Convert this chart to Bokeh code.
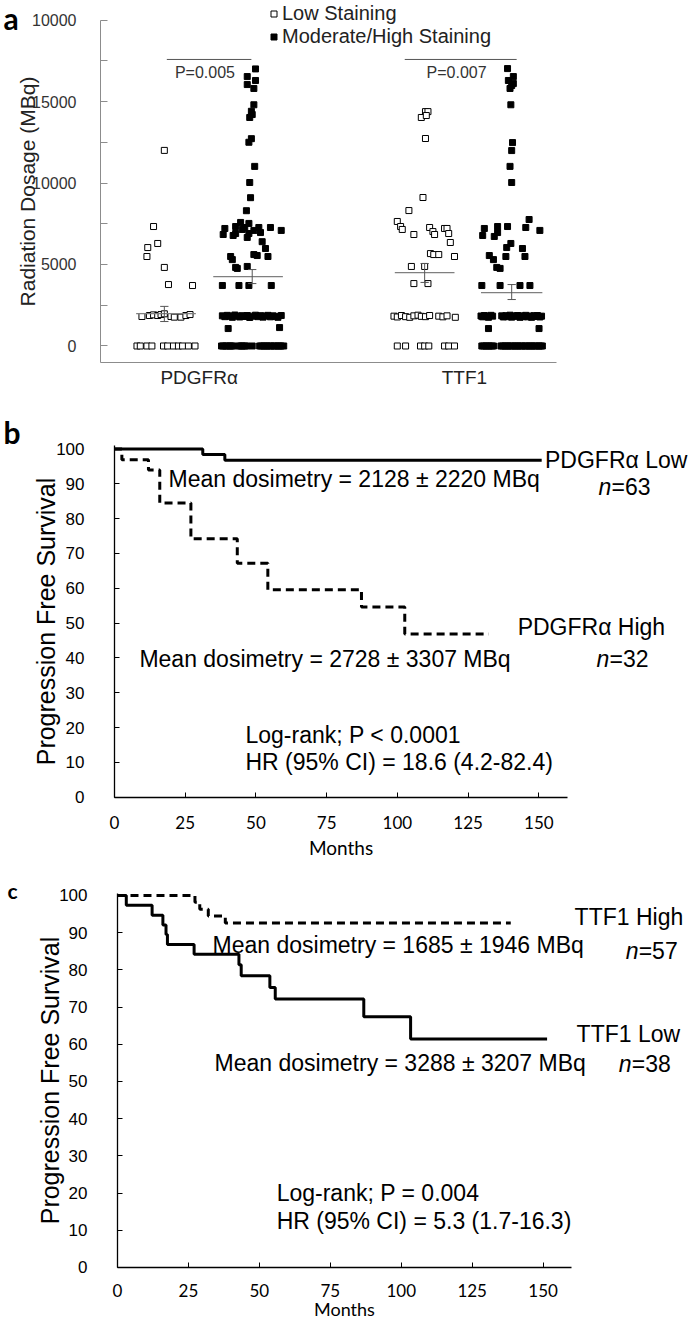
from bokeh.plotting import figure
from bokeh.layouts import column
from bokeh.models import FixedTicker, Label, Legend, LegendItem
from bokeh.embed import file_html
from bokeh.resources import INLINE

# ---------------- Panel a data ----------------
categories = ["PDGFRα", "TTF1"]
category_x = [1.19, 4.39]
group_centers_low = [0.81, 3.91]
group_centers_high = [1.81, 4.96]

y_major_ticks = [0, 5000, 10000, 15000, 20000]
y_major_labels = ["0", "5000", "10000", "15000", "10000"]
y_minor_ticks = [2500, 7500, 12500, 17500]

pdgfr_low_dose = [12000, 7330, 6290, 6040, 5490, 4820, 3770, 3710,
                  1810, 1870, 1910, 1870, 1930, 1975, 1810, 1770, 1770, 1870, 1930,
                  0, 0, 0, 0, 0, 0, 0, 0, 0, 0, 0]
pdgfr_low_jit = [-0.04, -0.17, -0.12, -0.24, -0.25, -0.04, 0.01, 0.30,
                 -0.31, -0.22, -0.17, -0.12, -0.08, -0.04, 0.04, 0.08, 0.16, 0.22, 0.27,
                 -0.37, -0.33, -0.25, -0.19, -0.05, 0.0, 0.07, 0.13, 0.18, 0.25, 0.33]

pdgfr_high_dose = [17000, 16530, 16290, 16040, 15800, 14800, 14400, 14020, 14200, 12720, 12500, 11020, 10030, 9100, 8300,
                   7210, 7330, 7580, 6900, 7270, 7520, 7090, 7270, 6900, 6660, 7270, 7090, 6840, 6780, 7150, 6960,
                   6400, 5980, 5490, 5300, 5610, 5550, 5490, 4820, 4760, 4880, 3710, 3710, 3710, 3710, 1070, 1130,
                   1850, 1800, 1880, 1820, 1760, 1900, 1840, 1780, 1860, 1810, 1870, 1750,
                   1830, 1890, 1800, 1860, 1770, 1840, 1880, 1790, 1850, 1820, 1760, 1870,
                   0, 0, 0, 0, 0, 0, 0, 0, 0, 0, 0, 0, 0, 0, 0, 0, 0, 0, 0, 0, 0, 0, 0, 0, 0, 0]
pdgfr_high_jit = [0.06, -0.04, 0.06, -0.04, 0.04, 0.04, 0.01, -0.01, 0.02, 0.01, -0.02, 0.05, -0.01, 0.0, -0.05,
                  -0.31, -0.18, -0.12, -0.18, -0.07, -0.02, 0.04, 0.10, -0.02, -0.04, 0.24, 0.37, -0.33, -0.21, -0.10, 0.12,
                  0.14, 0.18, -0.24, -0.22, 0.04, 0.08, 0.21, -0.18, -0.16, -0.04, -0.34, -0.14, -0.02, 0.25, -0.27, 0.35,
                  -0.34, -0.31, -0.28, -0.25, -0.22, -0.19, -0.16, -0.13, -0.10, -0.07, -0.04, -0.01,
                  0.03, 0.06, 0.09, 0.12, 0.15, 0.18, 0.21, 0.24, 0.27, 0.30, 0.33, 0.37,
                  -0.35, -0.33, -0.30, -0.28, -0.25, -0.23, -0.21, -0.14, -0.12, -0.10, -0.07, -0.05, 0.02,
                  0.11, 0.13, 0.16, 0.18, 0.20, 0.23, 0.25, 0.28, 0.30, 0.33, 0.35, 0.37, 0.40]

ttf1_low_dose = [14380, 14380, 14020, 14140, 12730, 9110, 8310, 7640, 7330, 7150, 6840, 7270, 7020,
                 6840, 7210, 7210, 6900, 6350, 5670, 5610, 5610, 5490, 4880, 4880, 3830, 3830,
                 1830, 1780, 1870, 1800, 1760, 1850, 1890, 1820, 1800, 1870, 1830, 1790, 1850, 1760,
                 0, 0, 0, 0, 0, 0, 0, 0]
ttf1_low_jit = [0.01, 0.04, -0.04, 0.02, 0.01, -0.02, -0.19, -0.33, -0.29, -0.27, -0.13, 0.06, 0.10,
                0.12, 0.24, 0.27, 0.29, 0.31, 0.07, 0.11, 0.17, 0.36, -0.16, 0.0, -0.13, 0.04,
                -0.37, -0.33, -0.28, -0.23, -0.18, -0.13, -0.08, -0.04, 0.01, 0.06, 0.17, 0.22, 0.27, 0.37,
                -0.33, -0.23, -0.05, 0.0, 0.05, 0.24, 0.29, 0.36]

ttf1_high_dose = [17020, 16290, 16530, 15980, 16100, 15800, 14800, 12480, 11990, 11020, 10030, 7760,
                  7210, 7330, 7330, 7270, 7090, 6780, 6720, 6960, 6290, 6040, 5980, 5550, 5300, 5490,
                  5490, 4820, 4760, 3710, 3710, 3710, 3710, 1070, 1070,
                  1840, 1790, 1870, 1810, 1760, 1880, 1830, 1850, 1780, 1860, 1800, 1890, 1770, 1840,
                  1820, 1870, 1760, 1850, 1800, 1880, 1790, 1840, 1760, 1860, 1810, 1870, 1780, 1830,
                  0, 0, 0, 0, 0, 0, 0, 0, 0, 0, 0, 0, 0, 0, 0, 0, 0, 0, 0, 0, 0, 0, 0, 0, 0, 0, 0, 0, 0]
ttf1_high_jit = [-0.05, -0.04, 0.02, 0.0, 0.02, -0.02, -0.01, 0.01, 0.0, -0.02, 0.0, 0.21,
                 -0.33, -0.17, -0.05, 0.17, 0.34, -0.35, -0.21, -0.17, -0.01, -0.06, 0.13, -0.27, -0.22, -0.07,
                 0.16, -0.18, -0.14, -0.36, -0.14, 0.10, 0.22, -0.28, 0.33,
                 -0.37, -0.35, -0.33, -0.30, -0.28, -0.25, -0.23, -0.12, -0.10, -0.07, -0.05, -0.02, 0.0, 0.02,
                 0.05, 0.07, 0.10, 0.12, 0.14, 0.17, 0.19, 0.22, 0.24, 0.27, 0.29, 0.31, 0.34, 0.36,
                 -0.36, -0.34, -0.31, -0.29, -0.27, -0.24, -0.22, -0.13, -0.11, -0.08, -0.06, -0.04, -0.01, 0.01,
                 0.04, 0.06, 0.08, 0.11, 0.13, 0.16, 0.18, 0.21, 0.23, 0.25, 0.28, 0.30, 0.33, 0.35, 0.37]

# mean and SEM bars: PDGFR low, PDGFR high, TTF1 low, TTF1 high
mean_dose = [1990, 4260, 4500, 3280]
sem_high = [2430, 4690, 5060, 3770]
sem_low = [1500, 3830, 3900, 2850]

p_values = ["P=0.005", "P=0.007"]
p_bar_dose = 17580
p_text_dose = 16780

# ---------------- Panel b data ----------------
pdgfr_low_t = [0, 31.2, 39.0, 151]
pdgfr_low_s = [100, 98.4, 96.8, 96.8]
pdgfr_high_t = [0, 2.6, 12.0, 16.0, 27.0, 43.4, 54.2, 87.3, 102.6, 132.3]
pdgfr_high_s = [100, 96.9, 94.0, 84.5, 74.2, 67.2, 59.6, 54.6, 46.9, 46.9]

# ---------------- Panel c data ----------------
ttf1_high_t = [0, 27.3, 29.0, 32.0, 38.0, 138.6]
ttf1_high_s = [100, 98.2, 96.3, 94.5, 92.6, 92.6]
ttf1_low_t = [0, 3.1, 12.2, 16.0, 17.1, 17.6, 27.0, 42.8, 43.6, 53.7, 55.6, 86.8, 103.3, 151.4]
ttf1_low_s = [100, 97.4, 94.7, 92.1, 89.5, 86.8, 84.2, 81.4, 78.4, 75.3, 72.2, 67.4, 61.4, 61.4]

month_ticks = [0, 25, 50, 75, 100, 125, 150]
pfs_ticks = [0, 10, 20, 30, 40, 50, 60, 70, 80, 90, 100]

SANS = "Liberation Sans"
NARROW = "Lato"
W = 689


def label(p, x, y, text, size, align="left", baseline="middle", style="normal",
          font=SANS, color="black", units="data", x_offset=0):
    p.add_layout(Label(x=x, y=y, text=text, x_units=units, y_units=units,
                       text_font_size=f"{size}px", text_align=align,
                       text_baseline=baseline, text_font_style=style,
                       text_font=font, text_color=color, x_offset=x_offset))


def bare_figure(height, x_range, y_range):
    p = figure(width=W, height=height, x_range=x_range, y_range=y_range,
               output_backend="svg", toolbar_location=None,
               min_border_left=0, min_border_right=0, min_border_top=0, min_border_bottom=0)
    p.outline_line_color = None
    p.grid.visible = False
    return p


# ================= Panel a =================
pa = bare_figure(400, (-1.2063, 7.1049), (-3344, 21197))
X_AXIS_Y = -1012

xa = pa.xaxis[0]
xa.fixed_location = X_AXIS_Y
xa.bounds = (0, 5.5)
xa.ticker = FixedTicker(ticks=category_x)
xa.major_label_overrides = {cx: c for cx, c in zip(category_x, categories)}
xa.major_tick_in = 0
xa.major_tick_out = 0
xa.minor_tick_line_color = None
xa.axis_line_color = "#8c8c8c"
xa.major_label_text_font = SANS
xa.major_label_text_font_size = "19px"
xa.major_label_text_color = "#222222"
xa.major_label_standoff = 5

ya = pa.yaxis[0]
ya.fixed_location = 0
ya.bounds = (X_AXIS_Y, 20000)
ya.ticker = FixedTicker(ticks=y_major_ticks, minor_ticks=y_minor_ticks)
ya.major_label_overrides = {t: l for t, l in zip(y_major_ticks, y_major_labels)}
ya.axis_line_color = "#8c8c8c"
ya.major_tick_line_color = "#8c8c8c"
ya.minor_tick_line_color = "#8c8c8c"
ya.major_tick_in = 7
ya.major_tick_out = 0
ya.minor_tick_in = 7
ya.minor_tick_out = 0
ya.major_label_text_font = SANS
ya.major_label_text_font_size = "16px"
ya.major_label_text_color = "#333333"
ya.major_label_standoff = 24
ya.axis_label = "Radiation Dosage (MBq)"
ya.axis_label_text_font = SANS
ya.axis_label_text_font_size = "21px"
ya.axis_label_text_font_style = "normal"
ya.axis_label_text_color = "#222222"
ya.axis_label_standoff = -10

low_x = ([group_centers_low[0] + j for j in pdgfr_low_jit] +
         [group_centers_low[1] + j for j in ttf1_low_jit])
low_y = pdgfr_low_dose + ttf1_low_dose
high_x = ([group_centers_high[0] + j for j in pdgfr_high_jit] +
          [group_centers_high[1] + j for j in ttf1_high_jit])
high_y = pdgfr_high_dose + ttf1_high_dose

r_low = pa.scatter(low_x, low_y, marker="square", size=6, fill_color="white",
                   line_color="black", line_width=1)
r_high = pa.scatter(high_x, high_y, marker="square", size=6, fill_color="black",
                    line_color="black", line_width=1)

centers = [group_centers_low[0], group_centers_high[0], group_centers_low[1], group_centers_high[1]]
mean_shift = [-0.02, -0.03, 0.0, 0.0]
mean_half = [0.36, 0.42, 0.36, 0.37]
err_shift = [-0.04, 0.02, 0.0, 0.0]
cap = 0.05
pa.segment([c + s - h for c, s, h in zip(centers, mean_shift, mean_half)], mean_dose,
           [c + s + h for c, s, h in zip(centers, mean_shift, mean_half)], mean_dose,
           line_color="#7f7f7f", line_width=1.2)
ex = [c + s for c, s in zip(centers, err_shift)]
pa.segment(ex, sem_low, ex, sem_high, line_color="#555555", line_width=1)
pa.segment([e - cap for e in ex], sem_low, [e + cap for e in ex], sem_low, line_color="#555555", line_width=1)
pa.segment([e - cap for e in ex], sem_high, [e + cap for e in ex], sem_high, line_color="#555555", line_width=1)

bracket_x0 = [group_centers_low[0] - 0.01, group_centers_low[1] - 0.24]
bracket_x1 = [group_centers_high[0] + 0.01, group_centers_high[1] + 0.06]
pa.segment(bracket_x0, [p_bar_dose] * 2, bracket_x1, [p_bar_dose] * 2,
           line_color="#555555", line_width=1)
for x0, x1, txt in zip(bracket_x0, bracket_x1, p_values):
    label(pa, (x0 + x1) / 2 - 0.05, p_text_dose, txt, 16, align="center", color="#333333")

legend = Legend(items=[LegendItem(label="Low Staining", renderers=[r_low]),
                       LegendItem(label="Moderate/High Staining", renderers=[r_high])],
                location=(266, 352), orientation="vertical",
                glyph_width=15, glyph_height=21, label_standoff=1, label_height=21,
                spacing=0, padding=0, margin=0,
                label_text_font=SANS, label_text_font_size="20px", label_text_color="#222222",
                border_line_color=None, background_fill_alpha=0)
pa.add_layout(legend)

label(pa, 3, 383, "a", 30, baseline="alphabetic", style="bold", font=NARROW, units="screen")


# ================= KM panels =================
def km_axes(p, y_top):
    xa = p.xaxis[0]
    xa.fixed_location = 0
    xa.bounds = (0, 160)
    xa.ticker = FixedTicker(ticks=month_ticks)
    xa.major_tick_in = 5
    xa.major_tick_out = 0
    xa.minor_tick_line_color = None
    xa.axis_line_color = "black"
    xa.axis_line_width = 1.3
    xa.major_tick_line_color = "black"
    xa.major_label_text_font = NARROW
    xa.major_label_text_font_size = "17px"
    xa.major_label_text_color = "black"
    xa.major_label_standoff = 19
    xa.axis_label = "Months"
    xa.axis_label_text_font = NARROW
    xa.axis_label_text_font_size = "19px"
    xa.axis_label_text_font_style = "normal"
    xa.axis_label_text_color = "black"
    xa.axis_label_standoff = 3
    ya = p.yaxis[0]
    ya.fixed_location = 0
    ya.bounds = (0, y_top)
    ya.ticker = FixedTicker(ticks=pfs_ticks)
    ya.major_tick_in = 5
    ya.major_tick_out = 0
    ya.minor_tick_line_color = None
    ya.axis_line_color = "black"
    ya.axis_line_width = 1.3
    ya.major_tick_line_color = "black"
    ya.major_label_text_font = SANS
    ya.major_label_text_font_size = "17px"
    ya.major_label_text_color = "black"
    ya.major_label_standoff = 30
    ya.axis_label = "Progression Free Survival"
    ya.axis_label_text_font = SANS
    ya.axis_label_text_font_size = "25px"
    ya.axis_label_text_font_style = "normal"
    ya.axis_label_text_color = "black"
    ya.axis_label_standoff = -7
    return xa, ya


# ---- Panel b ----
pb = bare_figure(470, (-40.30, 203.25), (-21.05, 113.93))
km_axes(pb, 101)
pb.step(pdgfr_low_t, pdgfr_low_s, mode="after", line_color="black", line_width=3)
pb.step(pdgfr_high_t, pdgfr_high_s, mode="after", line_color="black", line_width=3, line_dash="8 5")

label(pb, 202.5, 96.7, "PDGFRα Low", 23, align="right")
label(pb, 19.1, 91.5, "Mean dosimetry = 2128 ± 2220 MBq", 23)
label(pb, 171.1, 89.2, "n", 23, style="italic")
label(pb, 171.1, 89.2, "=63", 23, x_offset=13)
label(pb, 142.5, 49.0, "PDGFRα High", 23)
label(pb, 8.8, 39.8, "Mean dosimetry = 2728 ± 3307 MBq", 23)
label(pb, 170.4, 39.8, "n", 23, style="italic")
label(pb, 170.4, 39.8, "=32", 23, x_offset=13)
label(pb, 46.3, 18.0, "Log-rank; P < 0.0001", 23)
label(pb, 46.3, 10.0, "HR (95% CI) = 18.6 (4.2-82.4)", 23)
label(pb, 3, 439, "b", 30, baseline="alphabetic", style="bold", font=NARROW, units="screen")

# ---- Panel c ----
pc = bare_figure(457, (-41.23, 201.59), (-16.13, 106.72))
xc, yc = km_axes(pc, 100.6)
yc.axis_label_standoff = -8
xc.major_label_standoff = 17
xc.axis_label_text_font_size = "18px"
xc.axis_label_standoff = -3
pc.step(ttf1_high_t, ttf1_high_s, mode="after", line_color="black", line_width=3, line_dash="8 5")
pc.step(ttf1_low_t, ttf1_low_s, mode="after", line_color="black", line_width=3)

label(pc, 161.1, 94.2, "TTF1 High", 23)
label(pc, 33.5, 86.6, "Mean dosimetry = 1685 ± 1946 MBq", 23)
label(pc, 179.1, 85.2, "n", 23, style="italic")
label(pc, 179.1, 85.2, "=57", 23, x_offset=13)
label(pc, 161.8, 62.9, "TTF1 Low", 23)
label(pc, 34.2, 54.9, "Mean dosimetry = 3288 ± 3207 MBq", 23)
label(pc, 176.7, 54.8, "n", 23, style="italic")
label(pc, 176.7, 54.8, "=38", 23, x_offset=13)
label(pc, 56.1, 19.9, "Log-rank; P = 0.004", 23)
label(pc, 56.1, 12.6, "HR (95% CI) = 5.3 (1.7-16.3)", 23)
label(pc, 7, 437, "c", 21, baseline="alphabetic", style="bold", font=NARROW, units="screen")

layout = column(pa, pb, pc, spacing=0)
open("out.html", "w").write(file_html(layout, INLINE))
